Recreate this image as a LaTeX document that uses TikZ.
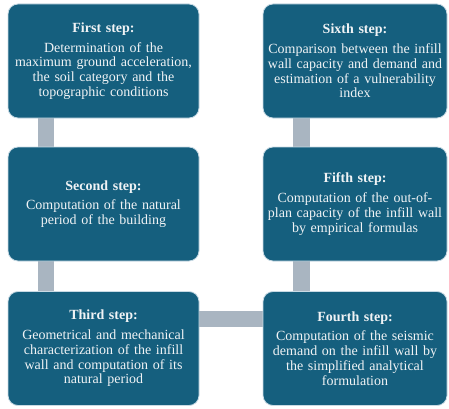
\documentclass[tikz,border=0pt]{standalone}
\usepackage{fontspec}
\setmainfont{Liberation Serif}
\usetikzlibrary{backgrounds}
\definecolor{stepfill}{RGB}{21,95,126}
\definecolor{stepedge}{RGB}{200,218,228}
\definecolor{linkgray}{RGB}{169,181,193}
\definecolor{steptext}{RGB}{240,243,245}
\tikzset{
  stepbox/.style={draw=stepedge, line width=0.8pt, fill=stepfill, rounded corners=10pt,
    text=steptext, align=center, inner sep=0pt, minimum height=114pt,
    font=\fontsize{14}{14.8}\selectfont},
  leftbox/.style={stepbox, minimum width=191pt, text width=187pt},
  rightbox/.style={stepbox, minimum width=184pt, text width=182pt},
  link/.style={draw=linkgray, line width=16pt}
}
\newcommand{\steptitle}[1]{\textbf{#1}\\[5pt]}
\begin{document}
\begin{tikzpicture}[x=1pt,y=1pt]
  \useasboundingbox (0,0) rectangle (449,408);
  % left column
  \node[leftbox] (s1) at (103.5,347) {\steptitle{First step:}Determination of the\\maximum ground acceleration,\\the soil category and the\\topographic conditions};
  \node[leftbox] (s2) at (103.5,204) {\steptitle{Second step:}Computation of the natural\\period of the building};
  \node[leftbox] (s3) at (103.5,59.5) {\steptitle{Third step:}Geometrical and mechanical\\characterization of the infill\\wall and computation of its\\natural period};
  % right column
  \node[rightbox] (s6) at (355,347) {\steptitle{Sixth step:}Comparison between the infill\\wall capacity and demand and\\estimation of a vulnerability\\index};
  \node[rightbox] (s5) at (355,204) {\steptitle{Fifth step:}Computation of the out-of-\\plan capacity of the infill wall\\by empirical formulas};
  \node[rightbox] (s4) at (355,59.5) {\steptitle{Fourth step:}Computation of the seismic\\demand on the infill wall by\\the simplified analytical\\formulation};
  % connecting bars, behind the boxes
  \coordinate (lx) at (46,0);
  \coordinate (rx) at (301,0);
  \coordinate (hy) at (0,89);
  \begin{scope}[on background layer]
    \draw[link] (s1.south -| lx) -- (s2.north -| lx);
    \draw[link] (s2.south -| lx) -- (s3.north -| lx);
    \draw[link, line width=17pt] (s4.north -| rx) -- (s5.south -| rx);
    \draw[link, line width=17pt] (s5.north -| rx) -- (s6.south -| rx);
    \draw[link] (s3.east |- hy) -- (s4.west |- hy);
  \end{scope}
\end{tikzpicture}
\end{document}
